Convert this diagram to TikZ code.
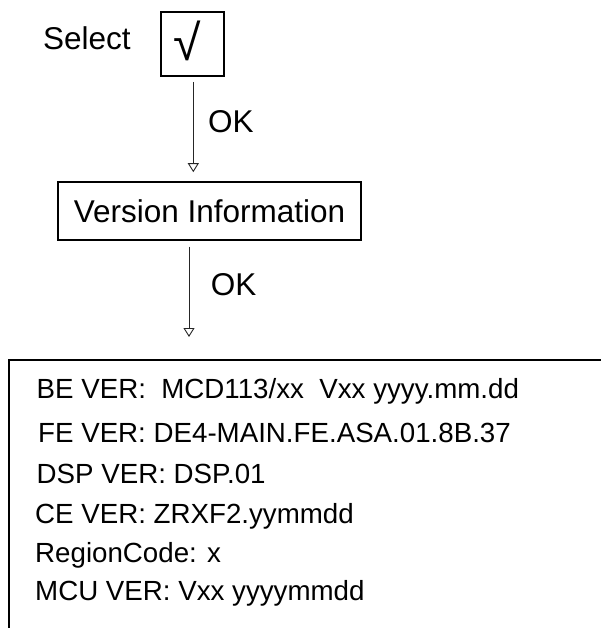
\documentclass[tikz,border=0pt]{standalone}
\usepackage{fontspec}
\setmainfont{Liberation Sans}
\usetikzlibrary{arrows.meta}
\tikzset{
  box/.style={draw=black, line width=1.6pt, inner sep=0pt},
  lbl/.style={font=\fontsize{31.5}{36}\selectfont, inner sep=0pt, anchor=base west},
  info/.style={font=\fontsize{27.7}{32}\selectfont, inner sep=0pt, anchor=base west},
  arr/.style={draw=black!85, line width=0.9pt, -{Triangle[open, length=9pt, width=11pt, line width=0.9pt]}}
}
\begin{document}
\begin{tikzpicture}[x=1pt,y=-1pt]
\useasboundingbox (0,0) rectangle (601,628);
\clip (0,0) rectangle (601,628);
\node[lbl] (sel) at (43,50) {Select};
\node[box, minimum width=63pt, minimum height=64pt, font=\fontsize{50}{54}\selectfont] (chk) at (192.5,44) {\raisebox{-17pt}[0pt][0pt]{\makebox[0pt]{\hspace*{-10pt}√}}};
\node[box, minimum width=303pt, minimum height=58pt, font=\fontsize{31.5}{36}\selectfont] (ver) at (209.5,211) {Version Information};
\node[box, anchor=north west, minimum width=640pt, minimum height=300pt] (infobox) at (8.3,359) {};
\node[lbl] (ok1) at (208,133) {OK};
\node[lbl] (ok2) at (210.7,295) {OK};
\draw[arr, shorten <=5pt, shorten >=9pt] ([xshift=0.8pt]chk.south) -- ([xshift=0.8pt]chk.south |- ver.north);
\draw[arr, shorten <=5.7pt, shorten >=22pt] ([xshift=-20.5pt]ver.south) -- ([xshift=-20.5pt]ver.south |- infobox.north);
\node[info] (l1) at (36.5,398) {BE VER:\ \ MCD113/xx\ \ Vxx yyyy.mm.dd};
\node[info] (l2) at (38,442) {FE VER: DE4-MAIN.FE.ASA.01.8B.37};
\node[info] (l3) at (36.5,483) {DSP VER: DSP.01};
\node[info] (l4) at (35,523) {CE VER: ZRXF2.yymmdd};
\node[info] (l5) at (35,562) {RegionCode: x};
\node[info] (l6) at (35,600) {MCU VER: Vxx yyyymmdd};
\end{tikzpicture}
\end{document}
